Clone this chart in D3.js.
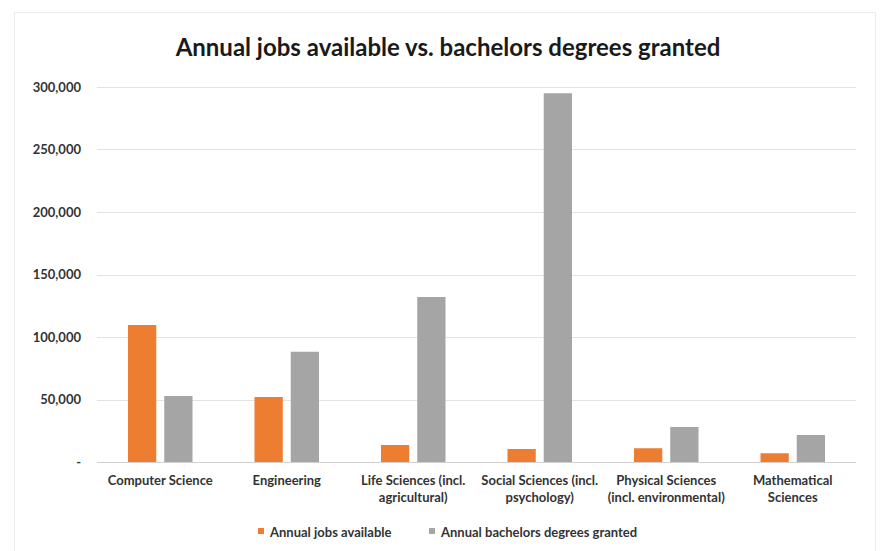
<!DOCTYPE html>
<html>
<head>
<meta charset="utf-8">
<script src="https://cdn.jsdelivr.net/npm/d3@7"></script>
<style>
  body { margin: 0; background: #fff; }
  svg { display: block; }
  text { font-family: Lato, "Open Sans", sans-serif; }
</style>
</head>
<body>
<svg id="chart" width="882" height="551"></svg>
<script>
const categories = [
  ["Computer Science"],
  ["Engineering"],
  ["Life Sciences (incl.", "agricultural)"],
  ["Social Sciences (incl.", "psychology)"],
  ["Physical Sciences", "(incl. environmental)"],
  ["Mathematical", "Sciences"]
];
const seriesNames = ["Annual jobs available", "Annual bachelors degrees granted"];
const jobsAvailable = [109600, 52000, 13600, 10400, 11000, 7000];
const degreesGranted = [52800, 88200, 132000, 295000, 28000, 21600];
const yTicks = [0, 50000, 100000, 150000, 200000, 250000, 300000];
const colors = ["#ED7D31", "#A5A5A5"];

const svg = d3.select("#chart");
const W = 882, H = 551;
const margin = { left: 97, right: 26, top: 87, bottom: 89 };
const plotW = W - margin.left - margin.right;
const plotH = H - margin.top - margin.bottom;
const FS = 13;

// faint frame
svg.append("rect").attr("x", 14.5).attr("y", 12.5).attr("width", 861).attr("height", 545)
  .attr("fill", "none").attr("stroke", "#ececec").attr("stroke-width", 1);

svg.append("text").attr("x", 448).attr("y", 56).attr("text-anchor", "middle")
  .attr("font-size", 24).attr("font-weight", "bold").attr("fill", "#1a1a1a")
  .text("Annual jobs available vs. bachelors degrees granted");

const g = svg.append("g").attr("transform", `translate(${margin.left},${margin.top})`);

const idx = d3.range(categories.length);
const x0 = d3.scaleBand().domain(idx).range([0, plotW]).paddingInner(0.49).paddingOuter(0.245);
const x1 = d3.scaleBand().domain([0, 1]).range([0, x0.bandwidth()]).paddingInner(0.22);
const y = d3.scaleLinear().domain([0, 300000]).range([plotH, 0]);

// gridlines
g.append("g").selectAll("line").data(yTicks.filter(d => d > 0)).join("line")
  .attr("x1", 0).attr("x2", plotW)
  .attr("y1", d => Math.round(y(d)) + 0.5).attr("y2", d => Math.round(y(d)) + 0.5)
  .attr("stroke", "#e3e3e3");

// y axis labels
const yAxis = d3.axisLeft(y).tickValues(yTicks)
  .tickFormat(d => d === 0 ? "-" : d3.format(",")(d)).tickSize(0).tickPadding(16);
const ya = g.append("g").call(yAxis);
ya.select(".domain").remove();
ya.selectAll("text").attr("font-size", FS).attr("font-weight", "bold").attr("fill", "#333")
  .style("font-family", "Lato, sans-serif");

// bars
const seriesData = [jobsAvailable, degreesGranted];
const groups = g.append("g").selectAll("g").data(idx).join("g")
  .attr("transform", i => `translate(${x0(i)},0)`);
groups.selectAll("rect").data(i => seriesData.map((s, k) => ({ k, v: s[i] }))).join("rect")
  .attr("x", d => x1(d.k)).attr("width", x1.bandwidth())
  .attr("y", d => y(d.v)).attr("height", d => plotH - y(d.v))
  .attr("fill", d => colors[d.k]);

// baseline
g.append("line").attr("x1", 0).attr("x2", plotW).attr("y1", plotH + 0.5).attr("y2", plotH + 0.5)
  .attr("stroke", "#d0d0d0");

// x labels
const xl = g.append("g").selectAll("text").data(idx).join("text")
  .attr("x", i => x0(i) + x0.bandwidth() / 2).attr("y", plotH + 23)
  .attr("text-anchor", "middle").attr("font-size", FS).attr("font-weight", "bold").attr("fill", "#333");
xl.selectAll("tspan").data(i => categories[i]).join("tspan")
  .attr("x", function() { return d3.select(this.parentNode).attr("x"); })
  .attr("dy", (d, j) => j === 0 ? 0 : 17).text(d => d);

// legend
const legendX = [258, 429];
const lg = svg.append("g").selectAll("g").data(seriesNames).join("g")
  .attr("transform", (d, k) => `translate(${legendX[k]},533)`);
lg.append("rect").attr("x", 0).attr("y", -5).attr("width", 6).attr("height", 6).attr("fill", (d, k) => colors[k]);
lg.append("text").attr("x", 12).attr("y", 4).attr("font-size", FS).attr("font-weight", "bold")
  .attr("fill", "#333").text(d => d);
</script>
</body>
</html>
